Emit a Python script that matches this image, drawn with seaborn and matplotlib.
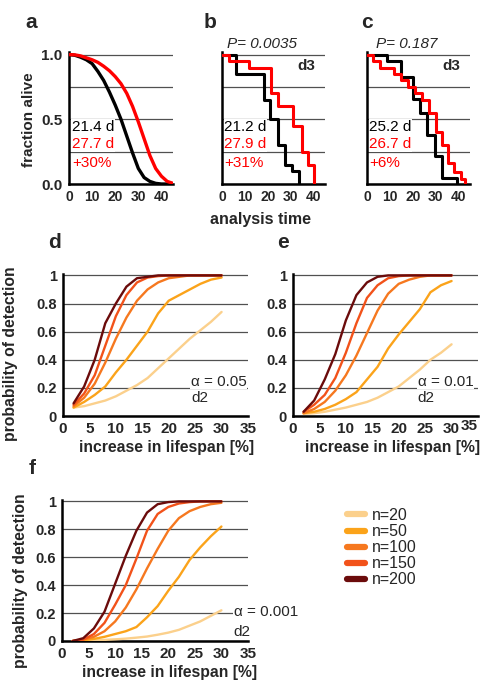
import matplotlib
matplotlib.use('Agg')

import matplotlib.pyplot as plt
from matplotlib.lines import Line2D
from matplotlib.ticker import MultipleLocator
import pandas as pd
import seaborn as sns

# panel a: modelled survival curves
a_time = [0, 2.5, 5, 7.5, 10, 12.5, 15, 17.5, 20, 22.5, 25, 27.5, 30, 32.5, 35, 37.5, 40, 42.5, 45]
a_ctrl = [1.0, 0.995, 0.98, 0.96, 0.93, 0.87, 0.80, 0.71, 0.61, 0.50, 0.37, 0.24, 0.12, 0.05, 0.02, 0.005, 0.0, 0.0, 0.0]
a_treat = [1.0, 0.998, 0.99, 0.975, 0.96, 0.94, 0.91, 0.875, 0.83, 0.775, 0.70, 0.60, 0.48, 0.35, 0.22, 0.12, 0.06, 0.02, 0.005]

# panels b, c: Kaplan-Meier steps
b_ctrl_t = [0, 6, 18.5, 21, 24.3, 27.5, 30.5, 33.5]
b_ctrl_s = [1.0, 0.85, 0.65, 0.50, 0.30, 0.15, 0.10, 0.0]
b_treat_t = [0, 3, 12, 21.5, 24.5, 31, 35, 37.5, 40]
b_treat_s = [1.0, 0.95, 0.90, 0.70, 0.60, 0.45, 0.25, 0.15, 0.0]

c_ctrl_t = [0, 8.6, 15, 20.3, 23.3, 26.3, 29.5, 32.6, 39.5]
c_ctrl_s = [1.0, 0.95, 0.83, 0.66, 0.55, 0.38, 0.22, 0.05, 0.0]
c_treat_t = [0, 2.6, 5.7, 11.9, 14.7, 18, 20.9, 24, 27.1, 30, 32.9, 35.5, 38, 41, 43]
c_treat_s = [1.0, 0.95, 0.90, 0.85, 0.80, 0.75, 0.70, 0.65, 0.55, 0.40, 0.30, 0.16, 0.09, 0.04, 0.0]

# panels d-f: power curves
increase = [2, 4, 6, 8, 10, 12, 14, 16, 18, 20, 22, 24, 26, 28, 30]
sample_sizes = ['n=20', 'n=50', 'n=100', 'n=150', 'n=200']
n_colors = ['#fbd08c', '#fba31a', '#f6781f', '#f2521a', '#6b0b0b']

p05_n20 = [0.06, 0.07, 0.09, 0.11, 0.14, 0.18, 0.22, 0.27, 0.34, 0.41, 0.48, 0.55, 0.61, 0.67, 0.74]
p05_n50 = [0.06, 0.10, 0.15, 0.21, 0.31, 0.40, 0.50, 0.60, 0.73, 0.82, 0.86, 0.90, 0.94, 0.97, 0.985]
p05_n100 = [0.07, 0.13, 0.23, 0.38, 0.55, 0.70, 0.82, 0.90, 0.95, 0.98, 0.99, 1.0, 1.0, 1.0, 1.0]
p05_n150 = [0.08, 0.16, 0.29, 0.50, 0.71, 0.86, 0.95, 0.985, 0.995, 1.0, 1.0, 1.0, 1.0, 1.0, 1.0]
p05_n200 = [0.09, 0.21, 0.40, 0.66, 0.80, 0.92, 0.98, 0.99, 1.0, 1.0, 1.0, 1.0, 1.0, 1.0, 1.0]

p01_n20 = [0.015, 0.02, 0.03, 0.045, 0.06, 0.08, 0.10, 0.13, 0.17, 0.21, 0.27, 0.33, 0.40, 0.45, 0.51]
p01_n50 = [0.02, 0.03, 0.05, 0.08, 0.12, 0.17, 0.26, 0.35, 0.48, 0.58, 0.67, 0.76, 0.88, 0.93, 0.96]
p01_n100 = [0.02, 0.05, 0.10, 0.18, 0.29, 0.43, 0.59, 0.75, 0.87, 0.94, 0.97, 0.99, 1.0, 1.0, 1.0]
p01_n150 = [0.03, 0.08, 0.15, 0.27, 0.45, 0.66, 0.84, 0.93, 0.98, 0.995, 1.0, 1.0, 1.0, 1.0, 1.0]
p01_n200 = [0.03, 0.11, 0.26, 0.44, 0.68, 0.86, 0.95, 0.99, 1.0, 1.0, 1.0, 1.0, 1.0, 1.0, 1.0]

p001_n20 = [0.0, 0.002, 0.005, 0.008, 0.012, 0.017, 0.024, 0.032, 0.045, 0.06, 0.08, 0.11, 0.14, 0.18, 0.22]
p001_n50 = [0.0, 0.005, 0.015, 0.03, 0.05, 0.07, 0.10, 0.17, 0.25, 0.36, 0.46, 0.58, 0.67, 0.75, 0.82]
p001_n100 = [0.0, 0.01, 0.03, 0.07, 0.14, 0.24, 0.37, 0.52, 0.66, 0.79, 0.88, 0.93, 0.96, 0.98, 0.99]
p001_n150 = [0.0, 0.01, 0.05, 0.13, 0.26, 0.40, 0.59, 0.79, 0.91, 0.96, 0.985, 0.995, 1.0, 1.0, 1.0]
p001_n200 = [0.0, 0.02, 0.09, 0.21, 0.41, 0.61, 0.79, 0.92, 0.98, 0.995, 1.0, 1.0, 1.0, 1.0, 1.0]

power_yticks = [0, 0.2, 0.4, 0.6, 0.8, 1.0]
power_ylabels = ['0', '0.2', '0.4', '0.6', '0.8', '1']
power_xticks = [0, 5, 10, 15, 20, 25, 30, 35]

sns.set_style('white')
plt.rcParams['font.family'] = ['Liberation Sans', 'DejaVu Sans']

W, H = 485, 682
fig = plt.figure(figsize=(W / 100, H / 100), dpi=100)


def px_axes(x0, y0, x1, y1):
    return fig.add_axes([x0 / W, 1 - y1 / H, (x1 - x0) / W, (y1 - y0) / H])


GRID = '#505050'


def base_style(ax, xfs, yfs):
    for s in ['top', 'right']:
        ax.spines[s].set_visible(False)
    for s in ['left', 'bottom']:
        ax.spines[s].set_linewidth(1.8)
        ax.spines[s].set_color('black')
    ax.yaxis.grid(True, color=GRID, lw=0.9)
    ax.xaxis.grid(False)
    ax.set_axisbelow(True)
    ax.tick_params(axis='both', which='major', direction='out', length=3.5, width=1.5,
                   color='black', pad=1)
    ax.tick_params(axis='x', labelsize=xfs)
    ax.tick_params(axis='y', labelsize=yfs)
    ax.tick_params(axis='both', which='minor', direction='out', length=2, width=1.2, color='black')
    for lab in ax.get_xticklabels() + ax.get_yticklabels():
        lab.set_fontweight('bold')
    ax.set_xlabel('')
    ax.set_ylabel('')


def label_box(ax, x, y, s, color):
    ax.text(x, y, s, color=color, fontsize=11, va='center', ha='left', zorder=1.5,
            bbox=dict(facecolor='white', edgecolor='none', pad=0.5))


# ---- panel a ----
ax_a = px_axes(69, 52, 173, 184)
df_a = pd.DataFrame({'time': a_time * 2, 'alive': a_ctrl + a_treat,
                     'group': ['ctrl'] * len(a_time) + ['treat'] * len(a_time)})
sns.lineplot(data=df_a, x='time', y='alive', hue='group', palette={'ctrl': 'black', 'treat': 'red'},
             estimator=None, sort=False, lw=2.4, legend=False, zorder=3, ax=ax_a)
ax_a.set_xlim(0, 45)
ax_a.set_ylim(0, 1.02)
ax_a.set_xticks([0, 10, 20, 30, 40])
ax_a.set_yticks([0, 0.25, 0.5, 0.75, 1.0])
ax_a.set_yticklabels(['0.0', '', '0.5', '', '1.0'])
base_style(ax_a, 10, 11)
ax_a.set_ylabel('fraction alive', fontsize=11, fontweight='bold')
ax_a.yaxis.set_label_coords(-0.315, 0.49)
label_box(ax_a, 1.2, 0.44, '21.4 d', 'black')
label_box(ax_a, 1.2, 0.31, '27.7 d', 'red')
label_box(ax_a, 1.2, 0.16, '+30%', 'red')

# ---- panels b, c ----
km_sets = [
    (222, 325, b_ctrl_t, b_ctrl_s, b_treat_t, b_treat_s, 'P= 0.0035', 2.4,
     ['21.2 d', '27.9 d', '+31%']),
    (367, 470, c_ctrl_t, c_ctrl_s, c_treat_t, c_treat_s, 'P= 0.187', 4.0,
     ['25.2 d', '26.7 d', '+6%']),
]
for x0, x1, ct, cs, tt, ts, ptxt, px, labs in km_sets:
    ax = px_axes(x0, 52, x1, 184)
    df = pd.DataFrame({'time': ct + tt, 'alive': cs + ts,
                       'group': ['ctrl'] * len(ct) + ['treat'] * len(tt)})
    sns.lineplot(data=df, x='time', y='alive', hue='group',
                 palette={'ctrl': 'black', 'treat': 'red'}, estimator=None, sort=False,
                 drawstyle='steps-post', lw=2.2, legend=False, zorder=3, ax=ax)
    ax.set_xlim(0, 45)
    ax.set_ylim(0, 1.02)
    ax.set_xticks([0, 10, 20, 30, 40])
    ax.set_yticks([0, 0.25, 0.5, 0.75, 1.0])
    ax.set_yticklabels([])
    base_style(ax, 10, 10)
    ax.text(px, 1.085, ptxt, fontsize=11, style='italic', va='center', ha='left')
    ax.text(37, 0.91, 'd3', fontsize=11, fontweight='bold', va='center', ha='center')
    label_box(ax, 1.0, 0.44, labs[0], 'black')
    label_box(ax, 1.0, 0.31, labs[1], 'red')
    label_box(ax, 1.0, 0.16, labs[2], 'red')

fig.text(261 / W, 1 - 220 / H, 'analysis time', fontsize=11.5, fontweight='bold',
         ha='center', va='center')

# ---- panels d, e, f ----
power_sets = [
    ((63, 274, 248, 416), [p05_n20, p05_n50, p05_n100, p05_n150, p05_n200], '0.05', 24.2, 0.245, 0.125,
     (0.56, -0.17), (-0.243, 0.44)),
    ((293, 274, 478, 416), [p01_n20, p01_n50, p01_n100, p01_n150, p01_n200], '0.01', 23.6, 0.245, 0.125,
     (0.54, -0.17), None),
    ((62, 500, 248, 641), [p001_n20, p001_n50, p001_n100, p001_n150, p001_n200], '0.001', 32.3, 0.208, 0.066,
     (0.58, -0.17), (-0.183, 0.43)),
]
power_axes = []
for box, series, alpha, tx, ty1, ty2, xlab_pos, ylab_pos in power_sets:
    ax = px_axes(*box)
    power_axes.append(ax)
    df = pd.DataFrame({'increase': increase * len(series),
                       'power': [v for s in series for v in s],
                       'n': [lab for lab in sample_sizes for _ in increase]})
    sns.lineplot(data=df, x='increase', y='power', hue='n', hue_order=sample_sizes,
                 palette=dict(zip(sample_sizes, n_colors)), estimator=None, sort=False,
                 lw=1.7, legend=False, zorder=3, ax=ax)
    ax.set_xlim(0, 35)
    ax.set_ylim(0, 1.01)
    ax.set_xticks(power_xticks)
    ax.set_yticks(power_yticks)
    ax.set_yticklabels(power_ylabels)
    ax.yaxis.set_minor_locator(MultipleLocator(0.1))
    base_style(ax, 11, 10.5)
    ax.set_xlabel('increase in lifespan [%]', fontsize=11.3, fontweight='bold')
    ax.xaxis.set_label_coords(*xlab_pos)
    if ylab_pos is not None:
        ax.set_ylabel('probability of detection', fontsize=11.3, fontweight='bold')
        ax.yaxis.set_label_coords(*ylab_pos)
    ax.text(tx, ty1, '\u03b1 = ' + alpha, fontsize=11, va='center', ha='left', zorder=1.5,
            bbox=dict(facecolor='white', edgecolor='none', pad=0.3))
    ax.text(tx, ty2, 'd2', fontsize=11, va='center', ha='left', zorder=1.5)

# the last tick label of panel e sits against the right edge, shifted up and left
last_e = power_axes[1].get_xticklabels()[-1]
last_e.set_horizontalalignment('right')
last_e.set_y(0.02)

# panel letters
for s, x, y in [('a', 31, 23), ('b', 210, 23), ('c', 367, 23),
                ('d', 55, 243), ('e', 283, 243), ('f', 32, 468)]:
    fig.text(x / W, 1 - y / H, s, fontsize=15, fontweight='bold', ha='center', va='center')

# legend for sample sizes
handles = [Line2D([0], [0], color=c, lw=4.5, solid_capstyle='round') for c in n_colors]
fig.legend(handles, sample_sizes, loc='upper left', bbox_to_anchor=(347 / W, 1 - 508 / H),
           frameon=False, fontsize=11.5, handlelength=1.1, handletextpad=0.45,
           labelspacing=0.07, borderaxespad=0, borderpad=0)

fig.savefig('out.png', dpi=100)
plt.close('all')
